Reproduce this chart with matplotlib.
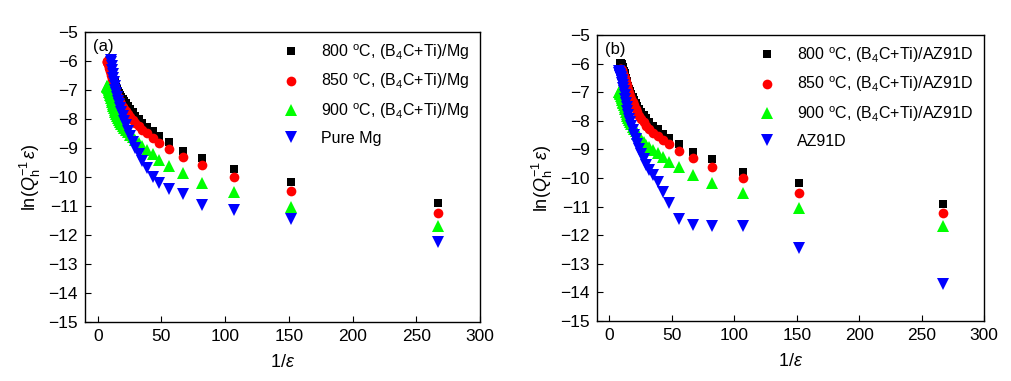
import matplotlib
matplotlib.use("Agg")
import matplotlib.pyplot as plt

plt.rcParams["font.family"] = ["Liberation Sans", "DejaVu Sans"]
plt.rcParams["mathtext.fontset"] = "custom"
plt.rcParams["mathtext.rm"] = "Liberation Sans"
plt.rcParams["mathtext.it"] = "Liberation Sans:italic"

# 1/strain values (shared by all series, longest first)
inv_eps = [267, 152, 107, 82, 67, 56, 48, 43, 38.5, 35, 32, 29.5, 27.3, 25.4, 23.7,
           22.2, 20.9, 19.7, 18.6, 17.6, 16.7, 15.9, 15.1, 14.4, 13.8, 13.2, 12.6,
           12.1, 11.6, 11.2, 10.8, 10.4, 10.0, 9.7, 9.4, 9.1, 8.8, 8.5, 8.2, 7.9,
           7.6, 7.3, 7.0]

# panel (a)
a_800 = [-10.9, -10.18, -9.72, -9.35, -9.1, -8.8, -8.58, -8.42, -8.27, -8.13, -8.0,
         -7.88, -7.76, -7.65, -7.55, -7.46, -7.38, -7.3, -7.23, -7.16, -7.09, -7.02,
         -6.95, -6.88, -6.81, -6.74, -6.67, -6.6, -6.53, -6.46, -6.39, -6.32, -6.25,
         -6.18, -6.11, -6.05, -5.99]
a_850 = [-11.25, -10.5, -10.0, -9.6, -9.3, -9.05, -8.83, -8.65, -8.5, -8.37, -8.25,
         -8.14, -8.03, -7.93, -7.83, -7.74, -7.65, -7.57, -7.49, -7.41, -7.33, -7.25,
         -7.17, -7.09, -7.01, -6.93, -6.85, -6.77, -6.69, -6.61, -6.54, -6.47, -6.4,
         -6.34, -6.28, -6.23, -6.18, -6.14, -6.1, -6.07, -6.05, -6.03, -6.0]
a_900 = [-11.69, -11.02, -10.51, -10.2, -9.88, -9.62, -9.41, -9.22, -9.06, -8.93,
         -8.82, -8.72, -8.63, -8.54, -8.46, -8.38, -8.31, -8.24, -8.17, -8.1, -8.03,
         -7.96, -7.89, -7.82, -7.75, -7.68, -7.61, -7.54, -7.47, -7.4, -7.33, -7.27,
         -7.21, -7.16, -7.11, -7.06, -7.01, -6.97, -6.93, -6.9, -6.88, -6.86, -6.85]
a_pure = [-12.25, -11.45, -11.15, -10.95, -10.6, -10.4, -10.2, -10.0, -9.7, -9.45,
          -9.22, -9.0, -8.8, -8.6, -8.4, -8.22, -8.06, -7.9, -7.76, -7.62, -7.5,
          -7.38, -7.25, -7.12, -6.99, -6.86, -6.72, -6.58, -6.44, -6.3, -6.17, -6.05,
          -5.95]

# panel (b)
b_800 = [-10.91, -10.19, -9.78, -9.35, -9.1, -8.82, -8.61, -8.45, -8.3, -8.17, -8.04,
         -7.92, -7.8, -7.69, -7.58, -7.47, -7.37, -7.27, -7.17, -7.07, -6.97, -6.88,
         -6.78, -6.69, -6.6, -6.51, -6.42, -6.34, -6.26, -6.19, -6.13, -6.08, -6.04,
         -6.01, -5.99, -5.98, -5.98]
b_850 = [-11.24, -10.51, -10.01, -9.6, -9.31, -9.04, -8.82, -8.67, -8.54, -8.42, -8.3,
         -8.18, -8.06, -7.94, -7.82, -7.7, -7.58, -7.46, -7.34, -7.23, -7.12, -7.02,
         -6.92, -6.83, -6.74, -6.66, -6.58, -6.51, -6.45, -6.4, -6.35, -6.31, -6.27,
         -6.24, -6.22, -6.2, -6.19]
b_900 = [-11.68, -11.06, -10.51, -10.19, -9.9, -9.63, -9.43, -9.26, -9.13, -9.02,
         -8.93, -8.83, -8.73, -8.63, -8.54, -8.45, -8.37, -8.29, -8.21, -8.13, -8.05,
         -7.98, -7.9, -7.82, -7.75, -7.68, -7.6, -7.53, -7.46, -7.39, -7.33, -7.27,
         -7.21, -7.16, -7.12, -7.08, -7.05, -7.03, -7.01, -6.99, -6.98]
b_az91 = [-13.71, -12.46, -11.68, -11.68, -11.64, -11.45, -10.88, -10.48, -10.13,
          -9.9, -9.72, -9.55, -9.35, -9.15, -8.97, -8.8, -8.64, -8.48, -8.32, -8.18,
          -8.05, -7.93, -7.8, -7.66, -7.52, -7.38, -7.24, -7.1, -6.97, -6.85, -6.76,
          -6.68, -6.62, -6.57, -6.52, -6.48, -6.44, -6.41, -6.38, -6.32, -6.27]

deg = r"$^{\mathrm{o}}$C"
labels_a = [f"800 {deg}, (B$_4$C+Ti)/Mg", f"850 {deg}, (B$_4$C+Ti)/Mg",
            f"900 {deg}, (B$_4$C+Ti)/Mg", "Pure Mg"]
labels_b = [f"800 {deg}, (B$_4$C+Ti)/AZ91D", f"850 {deg}, (B$_4$C+Ti)/AZ91D",
            f"900 {deg}, (B$_4$C+Ti)/AZ91D", "AZ91D"]

styles = [("s", "#000000", 6), ("o", "#ff0000", 7),
          ("^", "#00ff00", 8), ("v", "#0000ff", 8)]

fig = plt.figure(figsize=(10.11, 3.81), dpi=100)
ax_a = fig.add_axes([0.0841, 0.155, 0.3907, 0.761])
ax_b = fig.add_axes([0.5905, 0.1575, 0.3828, 0.7507])

panels = [(ax_a, [a_800, a_850, a_900, a_pure], labels_a, "(a)"),
          (ax_b, [b_800, b_850, b_900, b_az91], labels_b, "(b)")]

for ax, series, labels, tag in panels:
    for ys, lab, (m, c, ms) in zip(series, labels, styles):
        ax.plot(inv_eps[:len(ys)], ys, linestyle="none", marker=m, color=c,
                markersize=ms, markeredgewidth=0, label=lab)
    ax.set_xlim(-10, 300)
    ax.set_ylim(-15, -5)
    ax.set_xticks(range(0, 301, 50))
    ax.set_yticks(range(-15, -4))
    ax.tick_params(direction="in", length=4, width=0.8, labelsize=12.5, pad=5,
                   top=False, right=False)
    for sp in ax.spines.values():
        sp.set_linewidth(1.0)
    ax.set_xlabel(r"1/$\varepsilon$", fontsize=13, labelpad=7)
    ax.set_ylabel(r"ln($Q_{\mathrm{h}}^{-1}\,\varepsilon$)", fontsize=13, labelpad=4)
    ax.text(0.02, 0.975, tag, transform=ax.transAxes, va="top", ha="left",
            fontsize=12)
    ax.legend(loc="upper right", frameon=False, fontsize=11.5, handlelength=1.0,
              handletextpad=1.4, labelspacing=0.62, borderaxespad=0.3,
              borderpad=0.35, markerscale=1.0)

fig.savefig("out.png", dpi=100)
